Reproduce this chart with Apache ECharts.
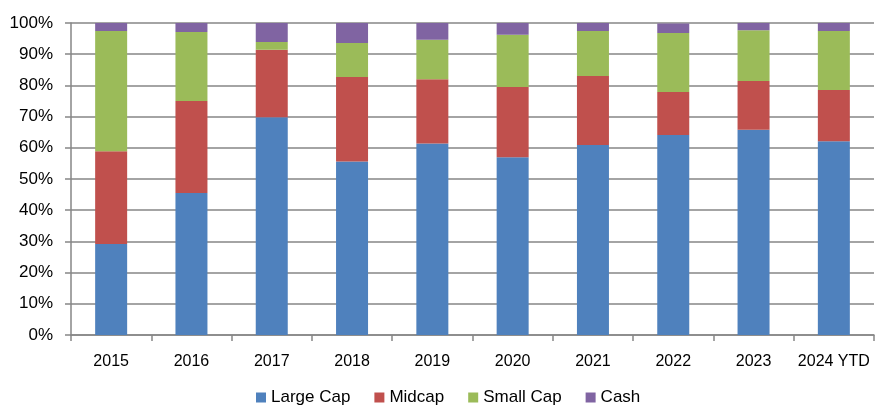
<!DOCTYPE html>
<html>
<head>
<meta charset="utf-8">
<script src="https://cdn.jsdelivr.net/npm/echarts@6/dist/echarts.min.js"></script>
<style>
html,body{margin:0;padding:0;background:#fff;}
#chart{width:882px;height:417px;}
</style>
</head>
<body>
<div id="chart"></div>
<script>
const categories = ['2015','2016','2017','2018','2019','2020','2021','2022','2023','2024 YTD'];
const largeCap = [29.2, 45.5, 69.8, 55.6, 61.4, 57.0, 60.9, 64.1, 65.8, 62.1];
const midcap   = [29.7, 29.5, 21.6, 27.1, 20.6, 22.5, 22.1, 13.8, 15.6, 16.4];
const smallCap = [38.5, 22.1, 2.5, 10.9, 12.6, 16.7, 14.4, 18.9, 16.3, 18.9];
const cash     = [2.6, 2.9, 6.1, 6.4, 5.4, 3.8, 2.6, 3.0, 2.3, 2.6];
const seriesNames = ['Large Cap','Midcap','Small Cap','Cash'];
const colors = ['#4F81BD','#C0504D','#9BBB59','#8064A2'];
const values = [largeCap, midcap, smallCap, cash];

const font = 'Liberation Sans, Arial, sans-serif';
const chart = echarts.init(document.getElementById('chart'));
chart.setOption({
  animation: false,
  color: colors,
  grid: {left: 71, right: 8, top: 23, bottom: 82},
  legend: {
    bottom: 6,
    left: 251,
    itemWidth: 10,
    itemHeight: 10,
    itemGap: 24,
    icon: 'rect',
    textStyle: {fontFamily: font, fontSize: 17, color: '#000'},
    data: seriesNames
  },
  xAxis: {
    type: 'category',
    data: categories,
    axisLine: {lineStyle: {color: '#868686', width: 1.5}},
    axisTick: {show: true, length: 6, interval: 0, lineStyle: {color: '#868686', width: 1.5}},
    axisLabel: {fontFamily: font, fontSize: 16, color: '#000', margin: 19, interval: 0}
  },
  yAxis: {
    type: 'value',
    min: 0, max: 100, interval: 10,
    axisLine: {show: true, lineStyle: {color: '#868686', width: 1.5}},
    axisTick: {show: true, inside: false, length: 6, lineStyle: {color: '#868686', width: 1.5}},
    splitLine: {lineStyle: {color: '#868686', width: 1.5}},
    axisLabel: {fontFamily: font, fontSize: 17, color: '#000', margin: 18, formatter: '{value}%'}
  },
  series: seriesNames.map((n, i) => ({
    name: n,
    type: 'bar',
    stack: 'total',
    barWidth: 32,
    data: values[i],
    itemStyle: {color: colors[i]}
  }))
});
</script>
</body>
</html>
